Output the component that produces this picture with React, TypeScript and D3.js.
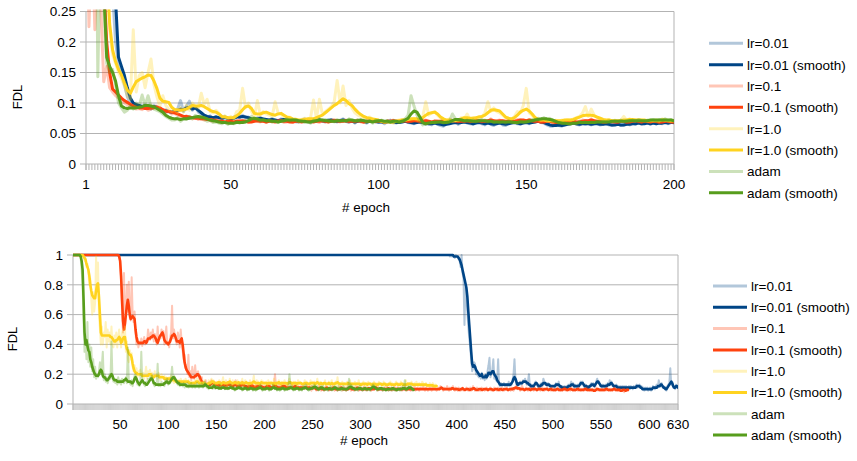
import React from 'react';
import * as d3 from 'd3';

// run-length literal decoder: "v" or "vxN" (value repeated N times)
const parse = (s: string, unit: number): number[] =>
  s.trim().split(/\s+/).flatMap((t) => {
    const [v, n] = t.split('x');
    return new Array(n ? parseInt(n, 10) : 1).fill(parseFloat(v) / unit);
  });

const SERIES_NAMES = ['lr=0.01', 'lr=0.1', 'lr=1.0', 'adam'];
const COLORS = ['#004586', '#ff420e', '#ffd320', '#579d1c'];

const TOP_Y_TICKS = [0, 0.05, 0.1, 0.15, 0.2, 0.25];
const TOP_Y_LABELS = ['0', '0.05', '0.1', '0.15', '0.2', '0.25'];
const TOP_X_TICKS = [1, 50, 100, 150, 200];
const BOT_Y_TICKS = [0, 0.2, 0.4, 0.6, 0.8, 1];
const BOT_Y_LABELS = ['0', '0.2', '0.4', '0.6', '0.8', '1'];
const BOT_X_TICKS = [50, 100, 150, 200, 250, 300, 350, 400, 450, 500, 550, 600, 630];

// ---------- TOP chart (values in thousandths), epochs 1..200 ----------
const TOP_LR001_RAW = `
999 950 900 800 700 600 500 400 330 280
200 165 150 130 110 100 96 98 94 95
97 92 90 96 92 88 86 89 85 84
88 90 104 86 95 103 88 94 85 82
78 77 79 74 78 75 73 78 74 72
77 79 76 80 76 77 72 71 76 76
73 72 71 75 70 70 74 73 70 71
73 69 69 72 74 70 68 71 72 73
70 69 73 72 70 69 72 74 70 68
71 67 71 72 69 67 71 73 69 68
70 66 70 72 68 67 69 70 71 68
67 66 69 70 67 65 66 64 68 65
63 62 66 67 68 70 65 69 70 67
66 65 68 70 66 64 68 65 63 67
68 64 63 67 68 70 66 65 68 70
66 69 71 72 68 67 64 62 62 64
63 62 65 66 67 68 65 64 67 65
67 64 66 67 64 65 67 64 63 65
66 63 64 66 64 67 65 69 65 67
68 65 68 66 68 66 70 66 69 67`;
const TOP_LR001_SMOOTH = `
900 850 800 700 620 550 480 420 370 320
270 175 160 145 125 108 100 97 96 94
95 93 92 94 93 90 88 87 86 85
86 88 90 89 92 93 90 92 88 84
80 78 77 76 77 76 75 76 75 74
75 77 77 78 77 76 74 73 74 75
74 73 72 73 72 71 72 73 72 71
72 71 70 71 72 71 70 70 71 72
71 70 71 72 71 70 71 72 71 70
70 69 70 71 70 69 70 71 70 69
69 68 69 70 69 68 68 69 70 69
68 67 68 69 68 67 66 66 67 66
65 64 65 66 67 68 67 68 69 68
67 66 67 68 67 66 67 66 65 66
67 66 65 66 67 68 67 66 67 68
67 68 69 70 69 68 66 64 63 63
64 63 64 65 66 67 66 65 66 66
66 65 66 66 65 65 66 65 64 64
65 64 64 65 65 66 66 67 66 66
67 66 67 66 67 67 68 67 68 68`;
const TOP_LR01_RAW = `
500 225 380 220 330 260 135 160 125 118
112 108 104 100 97 95 92 90 91 89
93 88 90 94 95 91 88 84 87 82
83 80 78 76 79 75 74 77 73 74
72 74 71 70 73 69 71 68 70 72
68 71 72 69 70 68 70 72 70 69
71 68 71 69 70 72 71 68 69 70
68 71 69 70 72 70 69 71 70 68
72 69 70 71 73 70 69 71 72 69
71 69 72 69 68 71 70 72 69 71
70 68 71 69 72 70 69 71 72 69
71 72 70 69 71 72 69 68 71 70
69 72 70 71 72 70 69 71 70 72
69 71 72 70 69 72 70 74 70 71
72 70 69 71 72 69 73 72 71 70
73 70 69 71 68 70 71 69 67 68
69 67 70 68 71 69 68 70 72 71
70 74 70 69 71 68 70 71 68 70
68 71 70 68 70 71 72 69 70 71
69 70 71 69 68 70 71 69 70 68`;
const TOP_LR01_SMOOTH = `
800 700 600 520 450 380 300 200 150 123
118 113 108 104 101 98 95 93 92 92
91 91 92 92 93 92 89 87 86 85
84 82 80 78 78 77 76 75 75 74
74 73 73 72 71 70 70 69 70 70
69 70 70 71 70 69 69 70 71 70
70 69 70 70 69 70 71 70 70 69
69 70 70 69 70 71 70 69 70 70
71 70 69 70 71 71 70 70 71 70
70 70 71 70 69 70 70 71 70 70
70 69 70 70 71 70 70 70 71 70
70 71 71 70 70 71 70 69 70 70
70 71 70 70 71 71 70 70 70 71
70 70 71 71 70 70 71 72 71 70
71 71 70 70 71 70 71 72 72 71
72 71 70 70 69 69 70 70 69 68
68 68 69 69 70 70 69 69 70 71
71 72 71 70 70 69 69 70 70 69
69 70 70 69 69 70 71 70 69 70
70 69 70 70 69 69 70 70 69 69`;
const TOP_LR1_RAW = `
999 900 800 700 600 500 400 300 220 180
165 150 140 128 112 106 220 118 145 150
125 150 172 130 110 95 112 96 90 86
88 84 92 85 96 88 100 94 92 116
98 106 86 84 88 83 76 79 74 78
74 86 88 124 92 100 86 78 104 80
86 82 80 78 102 84 81 78 74 77
72 74 70 73 75 73 76 105 74 106
82 86 90 94 102 137 100 128 96 104
92 84 80 78 76 75 77 73 72 71
70 68 70 69 67 71 72 73 71 74
73 75 72 71 78 102 80 84 86 80
75 73 71 74 70 72 71 76 74 82
72 76 74 78 77 84 102 86 92 86
84 80 76 74 73 78 86 84 96 124
84 80 72 74 71 73 70 72 70 72
70 72 71 73 72 74 76 78 83 94
78 90 80 76 73 72 71 73 70 72
70 72 78 71 74 72 71 73 72 71
70 72 71 73 70 74 71 72 70 72`;
const TOP_LR1_SMOOTH = `
900 800 700 600 500 420 380 330 230 187
168 155 146 133 121 116 126 135 138 141
143 146 145 136 124 108 103 102 101 93
89 89 88 89 90 93 96 95 95 96
94 91 88 86 85 82 78 77 76 76
76 79 83 89 94 95 91 83 82 82
84 85 83 81 80 82 83 80 77 76
74 73 72 72 73 74 74 74 76 78
80 84 88 92 96 99 103 107 104 99
96 90 85 81 78 76 75 74 73 72
70 69 69 69 69 70 71 72 72 73
74 74 74 73 76 80 83 84 85 82
77 74 72 72 71 71 72 74 76 76
75 75 76 77 78 80 84 88 89 88
87 82 77 75 74 76 80 85 88 90
87 82 76 73 72 72 71 71 71 71
71 71 72 72 72 73 75 77 79 80
80 80 79 77 75 73 72 72 71 71
71 71 72 72 73 73 72 72 72 72
71 71 71 71 71 72 72 71 71 71`;
const TOP_ADAM_RAW = `
999 900 800 700 143 400 260 165 150 155
130 100 92 85 88 96 90 100 95 113
96 112 94 90 88 86 82 78 75 72
72 76 70 74 73 78 74 80 77 75
73 70 72 68 69 67 66 69 65 68
66 70 67 69 71 73 78 74 72 70
73 70 72 69 71 68 71 72 74 70
73 71 69 71 68 70 67 72 70 74
71 73 69 71 69 73 70 72 70 74
71 69 73 70 72 68 71 67 72 70
72 69 71 68 71 69 68 71 74 80
112 95 80 70 64 66 69 67 70 68
70 67 69 70 82 74 71 73 70 72
70 72 69 71 73 70 69 71 68 70
68 70 67 71 68 69 67 71 68 70
71 73 72 75 73 76 72 75 70 69
67 68 66 67 65 68 66 70 67 69
67 69 68 70 68 70 69 71 69 71
70 72 69 71 70 72 70 73 71 70
72 71 73 70 73 71 74 71 73 70`;
const TOP_ADAM_SMOOTH = `
800 700 600 500 420 350 290 175 160 150
136 112 95 92 91 92 92 92 93 94
96 96 95 94 91 88 85 80 77 75
74 74 73 74 74 75 76 77 78 77
76 74 72 71 70 69 68 68 67 67
67 68 68 68 69 71 74 75 74 72
72 71 71 70 70 69 70 71 72 72
72 72 71 70 70 69 69 70 71 72
72 71 71 70 70 71 71 71 71 72
72 71 71 72 71 70 70 69 70 71
71 70 70 69 70 70 69 70 72 75
82 87 85 77 68 66 67 68 68 69
69 68 68 69 71 73 73 72 71 71
71 70 70 71 71 71 70 70 69 69
69 69 69 69 69 68 68 69 69 69
70 71 72 73 74 74 74 73 72 70
68 67 67 66 66 67 67 68 68 68
68 68 68 69 69 69 69 69 70 70
70 70 70 70 71 71 71 71 71 71
71 72 72 72 72 72 72 72 72 71`;

// ---------- BOTTOM chart (values in hundredths), epochs 1..630 ----------
const BOT_LR001_RAW = `
100x385
100 100 100 100 100 100 100 99 100 99 100 99 98 100 99
99 97 96 92 100 88 84 53 78 72
62 52 44 38 30 22 24 28 27 20
20 19 18 20 17 21 17 19 16 20
17 22 26 31 18 20 23 30 17 18
16 15 30 13 12 14 12 13 14 12
12 13 12 15 12 14 13 16 20 30
16 13 12 14 13 15 13 14 16 15
17 14 13 15 20 12 11 13 12 11
14 15 13 12 11 13 12 14 12 17
15 13 14 12 14 12 13 11 12 12
12 11 14 12 13 15 11 12 10 12
10 12 11 12 10 13 12 13 15 12
14 11 13 12 11 13 12 14 15 13
15 12 11 13 12 10 12 11 13 14
12 14 13 12 15 17 14 15 12 13
11 13 12 11 13 12 14 12 16 13
15 12 13 11 12 13 11 12 10 12
11 12 10 12 11 12 10 11 12 10
12 11 10 12 11 12 13 11 12 13
11 12 10 11 9 11 10 11 9 10
11 9 10 12 11 10 12 13 11 16
13 12 14 11 12 10 11 9 12 13
14 24 13 15 11 12 10 13 11 12`;
const BOT_LR001_SMOOTH = `
100x385
100 100 100 100 100 100 100 100 100 100 100 99 99 99 99
99 98 97 95 93 90 87 84 81 78
72 62 53 44 35 27 25 26 25 23
22 21 20 19 19 20 18 18 18 19
18 19 21 21 20 21 22 22 20 19
18 16 15 14 13 13 13 13 13 13
13 13 13 13 13 13 14 15 17 18
17 15 13 13 14 14 14 14 15 15
15 15 14 14 13 13 12 12 12 12
13 14 14 13 12 12 12 13 13 14
14 14 13 13 13 13 12 12 12 12
12 12 13 13 13 13 12 12 11 11
11 11 11 11 11 12 12 12 13 13
13 12 12 12 12 12 12 13 14 14
14 13 12 12 12 11 11 12 12 13
13 13 12 13 14 15 15 14 13 12
12 12 12 12 12 12 13 13 13 14
14 13 12 12 12 12 11 11 11 11
11 11 11 11 11 11 11 11 11 11
11 11 11 11 11 11 12 12 12 12
11 11 10 10 10 10 10 10 10 10
10 10 10 11 11 11 11 11 12 12
12 13 13 12 11 11 10 10 11 12
13 14 15 14 12 11 11 12 12 11`;
const BOT_LR01_RAW = `
100x47
100 100 96 82 62 48 88 50 64 80 62 82 58
56 85 60 55 62 48 40 44 38 42
40 44 39 42 45 40 43 41 50 46
43 48 44 50 42 47 44 40 52 42
46 44 50 46 49 40 44 52 40 42
38 44 48 66 44 50 45 42 40 48
45 38 50 42 36 30 33 24 26 20
33 18 22 16 25 20 17 26 18 21
22 17 19 14 18 12 15 13 16 12
14 12 15 13 16 14 12 15 13 12
14 12 11 15 12 13 14 11 12 13
11 14 13 15 12 11 14 12 13 16
12 11 13 12 14 11 15 13 12 11
12 10 13 11 14 12 11 13 10 12
11 13 12 14 11 13 10 12 11 12
10 12 13 11 14 12 10 11 12 13
20 12 10 11 13 10 12 11 14 12
11 13 10 12 11 10 12 11 13 10
12 13 10 11 12 10 11 12 10 11
12 10 11 13 10 11 12 10 9 12
10 12 11 9 10 11 12 10 9 11
10 9 11 12 10 11 9 10 11 10
12 10 9 11 10 9 11 10 12 11
9 10 11 10 9 10 12 11 10 9
10 11 9 10 12 11 10 9 11 10
11 9 10 12 10 11 9 10 11 10
9 10 12 10 11 13 10 9 11 10
10 11 9 10 11 10 12 10 9 11
10 9 11 10 12 10 9 11 10 10
11 10 9 11 10 12 10 9 10 11
10 9 11 10 10 12 9 10 11 10
9 11 10 10 12 10 9 11 10 9
10 11 10 9 12 10 11 10 9 10
11 10 12 11 10 9 11 10 10 12
10 9 11 10 11 12 10 9 11 10
9 11 10 9 10 11 9 10 10 11
10 9 10 11 9 10 12 10 9 10
11 10 9 10 9 11 10 10 9 10
11 9 10 10 11 9 10 9 11 10
10 9 11 10 9 10 11 10 9 10
10 11 9 10 10 9 11 10 9 10
11 12 10 11 10 9 11 12 10 9
10 11 10 9 10 11 9 10 10 9
11 10 9 10 11 10 9 10 11 10
9 10 10 11 9 10 10 9 11 10
9 10 9 10 11 9 10 9 10 9
10 11 9 10 9 10 10 9 11 10
9 10 9 10 10 9 11 10 9 10
10 9 9 10 11 9 10 9 10 9
10 9 10 9 11 10 9 10 9 10
9 10 9 10 9 11 10 9 10 9
10 9 10 11 9 10 9 10 9 10
9 10 9 8 10 9 10 9`;
const BOT_LR01_SMOOTH = `
100x47
100 99 96 86 70 56 50 54 60 66 70 66 60
57 58 59 58 57 50 45 42 41 41
41 41 41 41 42 42 41 42 44 44
44 45 45 46 46 45 44 42 41 43
45 46 47 48 46 43 42 41 41 40
41 42 44 46 46 47 46 44 42 42
42 41 43 44 40 34 28 25 23 22
21 20 19 18 18 18 18 19 19 20
20 19 18 16 15 14 14 13 13 13
13 13 13 13 14 14 14 13 13 13
13 13 12.5 12.5 12.5 13 13 12.5 12.5 12.5
12.5 13 13 13 12.5 12 12 12.5 13 13
12.5 12 12 12 12.5 12.5 13 13 12.5 12
12 11.5 11.5 12 12 12 12.5 12 11.5 11.5
11.5 11.5 12 12 12 12 11.5 11.5 11 11
11 11.5 12 12 12 11.5 11 11 11.5 12
12.5 12 11.5 11 11 11 11 11.5 12 12
12 11.5 11 11 11 11 11 11 11 11
11.5 12 11.5 11 11 11 11 11 11 11
11 11 11 11 11 11 11 10.5 10.5 11
11 11 10.5 10 10 10 10.5 11 10.5 10
10 10 10 10.5 11 10.5 10 10 10 10
10.5 11 10.5 10 10 10 10 10 10.5 11
10.5 10 10 10 10 10 10 10.5 11 10.5
10 10 10 10 10 10.5 11 10.5 10 10
10 10 10 10 10 10 10 10.5 10.5 10
10 10 10 10 10.5 11 10.5 10 10 10
10 10 10 10 10 10 10 10 10.5 10
10 10 10 10 10 10 10 10 10 10
10 10 10 10.5 10 10 10 10 10 10
10 10 10 10 10 10 10 10 10 10
10 10 10 10 10 10 10 10 10 10
10 10 10 10 10 10 10 10 10 10
10 10 10.5 11 10.5 10 10 10 10 10
10 10 10 10 10.5 10.5 10 10 10 10
10 9.5 9.5 10 10 10.5 10 9.5 9.5 10
10 10 9.5 9.5 10 10 10.5 10.5 10 9.5
9.5 9.5 10 10 10 9.5 9.5 10 10 10
10 9.5 9.5 10 10 10 9.5 9.5 9.5 10
10 10 9.5 9.5 10 10 9.5 9.5 10 10
10 10 9.5 9.5 10 10 10 10 10.5 10.5
11 11 10.5 10.5 10.5 10 10 10 10 9.5
9.5 10 10 10 10 9.5 9.5 10 10 10
10 10 9.5 9.5 10 10 10 10 9.5 9.5
10 10 10 10 9.5 9.5 10 10 9.5 9.5
9.5 9.5 9.5 10 10 9.5 9.5 9.5 9.5 9.5
10 10 10 9.5 9.5 9.5 10 10 10 9.5
9.5 9.5 9.5 9.5 10 10 9.5 9.5 9.5 9.5
9.5 9.5 10 10 9.5 9.5 9.5 9.5 9.5 9.5
9.5 9 9 9 9.5 10 10 9.5 9.5 9.5
9.5 9.5 9.5 9.5 10 10 9.5 9.5 9.5 9.5
9.5 9.5 10 10 9.5 9.5 9.5 9.5 9.5 9
9 9 9.5 9.5 9 9 9.5 9.5`;
const BOT_LR1_RAW = `
100x10
100 99 96 98 92 94 88 80 84 70
60 75 62 68 99 78 95 60 50 40
52 40 48 45 55 38 50 42 48 40
52 40 38 46 40 48 38 45 50 42
38 48 50 40 52 35 42 30 28 36
30 34 25 22 26 20 24 18 22 19
23 20 18 21 17 20 25 17 22 19
23 18 21 17 19 22 18 20 17 21
19 16 20 18 17 19 15 18 17 16
18 16 19 15 17 14 18 15 16 14
16 14 17 15 13 16 14 17 15 14
16 13 15 14 12 15 14 16 13 17
15 13 16 14 12 15 13 16 12 14
13 16 14 15 17 13 16 14 12 15
15 13 16 14 12 15 18 13 14 16
12 15 13 17 14 12 16 13 15 14
13 16 12 14 15 13 17 12 14 16
15 13 14 12 16 14 13 15 19 12
14 16 13 15 12 14 16 13 15 14
13 15 12 16 14 13 15 14 12 17
14 12 15 13 16 14 12 15 13 14
16 13 14 12 15 17 13 14 12 15
13 15 14 12 16 13 15 14 13 12
14 16 13 15 12 14 13 16 12 15
13 15 12 14 17 13 12 15 14 12
14 13 16 12 14 13 15 12 14 16
12 14 13 15 12 18 13 12 14 13
15 12 14 13 12 15 14 13 16 12
14 13 12 15 13 14 12 16 13 12
14 13 15 12 14 13 12 15 13 14
12 14 13 15 12 13 14 12 15 13
14 12 13 15 12 14 13 12 14 13
15 12 14 13 12 14 15 13 12 14
13 15 12 14 13 12 16 13 14 12
14 13 15 12 13 14 12 15 13 12
14 13 12 15 14 12 13 14 12 13
12 14 13 12 14 13 12 13 12`;
const BOT_LR1_SMOOTH = `
100x10
100 99 98 97 94 92 90 86 80 76
73 72 71 71 76 80 81 72 60 48
46 46 46 46 46 46 46 46 46 45
45 44 43 42 42 43 43 44 45 44
41 42 44 45 45 40 37 36 34 33
33 31 27 24 22 21 21 20 20 20
20 20 19 19 19 19 19 19 19 20
20 20 19 18 18 19 19 19 19 19
18 18 18 18 18 17 17 17 17 17
17 17 17 17 16 16 16 15 15 15
15 15 15 15 15 15 15 15 15 15
15 14 14 14 14 14 14 14 15 15
15 14 14 14 14 14 14 14 13 13
13 14 14 14 15 15 15 14 14 14
14 14.5 14.5 14 13.5 14 14.5 14.5 14 14
14 14.5 14.5 15 14.5 14 14 14 14.5 14.5
14 14 14.5 14 14 14 14.5 14 14 14
14.5 14 14 13.5 14 14 14 14.5 15 14.5
14 14 14 14 13.5 14 14.5 14 14 14
14 14 13.5 14 14 14 14 14 13.5 14
14 13.5 14 14 14.5 14 13.5 14 14 14
14 14 14 13.5 14 14.5 14.5 14 13.5 14
14 14 14 13.5 14 14 14 14 13.5 13.5
13.5 14 14 14 13.5 13.5 13.5 14 14 14
14 14 13.5 14 14.5 14 13.5 13.5 14 13.5
13.5 14 14 13.5 13.5 13.5 14 13.5 13.5 14
13.5 13.5 13.5 14 14 14.5 14 13.5 13.5 13.5
13.5 13.5 13.5 13.5 13.5 13.5 14 13.5 13.5 13.5
13.5 13.5 13.5 13.5 13.5 13.5 13.5 13.5 13.5 13
13 13.5 13.5 13.5 13.5 13.5 13 13.5 13.5 13.5
13 13 13.5 13.5 13.5 13 13 13 13.5 13.5
13.5 13 13 13.5 13.5 13 13 13 13 13.5
13.5 13 13 13 13 13 13.5 13.5 13 13
13 13.5 13.5 13 13 13 13 13 13.5 13.5
13.5 13.5 13.5 13 13 13 13 13 13 13
13 13 13 13 13 13 13 13 12.5 12.5
12.5 12.5 12.5 12.5 12.5 12 12 12 12`;
const BOT_ADAM_RAW = `
100 100 100 100 100 100 100 100 98 90
80 55 35 45 30 55 28 40 25 38
22 30 18 25 17 20 18 22 28 20
26 35 16 20 15 18 14 16 20 17
42 18 15 17 14 16 13 18 14 16
13 17 15 14 16 18 14 38 16 14
13 16 12 15 19 20 16 13 15 12
14 35 16 14 13 12 15 13 17 15
18 16 19 15 13 12 14 13 27 12
13 12 15 13 14 12 16 14 17 13
15 14 18 25 17 19 16 15 14 13
15 12 14 13 12 14 11 13 12 14
11 13 12 14 11 12 13 11 12 14
12 11 13 12 14 11 12 15 13 11
12 10 12 11 13 10 12 13 10 12
12 10 11 13 10 11 12 11 10 12
11 10 12 11 13 10 11 12 9 11
10 12 11 13 10 11 9 12 10 11
12 9 11 10 12 10 11 9 11 10
9 11 10 12 11 13 10 9 11 10
10 12 11 10 9 11 10 12 13 11
10 12 9 11 10 9 11 10 12 10
9 11 10 10 12 20 13 10 12 9
11 10 12 10 11 9 10 11 9 12
11 12 13 11 10 9 11 10 12 11
12 13 11 10 12 9 10 11 12 10
12 9 10 11 10 9 11 10 12 9
11 10 12 11 10 9 12 10 11 9
10 12 11 10 9 11 10 17 11 13
12 10 11 9 10 11 9 10 12 11
10 9 11 10 11 9 10 11 10 9
11 12 13 12 10 11 9 10 11 10
11 10 9 11 10 9 10 11 9 10
10 11 9 11 10 9 10 9 11 10
9 11 10 12 11 16 9 11 10 12
11 12 10 9 10`;
const BOT_ADAM_SMOOTH = `
100 100 100 100 100 100 100 100 99 96
90 70 48 40 43 39 36 35 30 28
25 23 21 20 19 19 19 20 22 23
22 19 18 18 17 16 16 17 18 19
20 19 17 16 16 16 15 15 15 15
15 15 15 16 16 17 16 15 15 15
15 14 14 15 17 18 17 15 14 13
14 15 16 15 14 14 13 13 14 15
16 17 17 16 14 14 13 13 13 13
13 13 13 13 13 14 14 15 15 14
14 15 16 17 18 18 17 16 15 14
14 13 13 13 13 13 13 13 12 12
12 12 12 12 12 12 12 12 12 12
12 12 12 12 12 12 12 13 13 12
12 11 11 11 11 11 12 12 11 11
11 11 10.5 10.5 10.5 11 11 11 10.5 10.5
10.5 10.5 10.5 11 11 11 10.5 10.5 10 10
10.5 10.5 11 11 10.5 10.5 10 10 10.5 10.5
10.5 10 10 10 10.5 10.5 10.5 10 10 10
10 10 10.5 10.5 11 11 10.5 10 10 10
10 10.5 10.5 10.5 10 10 10 10.5 11 11
10.5 10.5 10 10 10 10 10 10.5 10.5 10.5
10 10 10 10 10.5 10.5 11 11 10.5 10
10 10 10.5 10.5 10.5 10 10 10 10 10.5
10.5 11 11 10.5 10 10 10 10.5 10.5 10.5
11 11.5 11.5 11 10.5 10 10 10.5 11 11
10.5 10 10 10 10 10 10.5 10.5 10 10
10 10.5 11 11 10.5 10 10 10 10 10.5
10.5 10 10 10 10 10 10.5 11 11.5 11.5
11 10.5 10.5 10 10 10 10 10.5 10.5 10.5
10 10 10 10.5 10.5 10 10 10 10 10
10.5 11 11.5 11.5 11 10.5 10 10 10 10.5
10.5 10.5 10 10 10 9.5 9.5 10 10 10
10 10 10.5 10.5 10 10 9.5 9.5 10 10
10 10 10 10.5 10.5 10.5 10 10 10.5 11
11 11 10.5 10 9.5`;

const TOP_RAW = [TOP_LR001_RAW, TOP_LR01_RAW, TOP_LR1_RAW, TOP_ADAM_RAW].map((s) => parse(s, 1000));
const TOP_SMOOTH = [TOP_LR001_SMOOTH, TOP_LR01_SMOOTH, TOP_LR1_SMOOTH, TOP_ADAM_SMOOTH].map((s) => parse(s, 1000));
const BOT_RAW = [BOT_LR001_RAW, BOT_LR01_RAW, BOT_LR1_RAW, BOT_ADAM_RAW].map((s) => parse(s, 100));
const BOT_SMOOTH = [BOT_LR001_SMOOTH, BOT_LR01_SMOOTH, BOT_LR1_SMOOTH, BOT_ADAM_SMOOTH].map((s) => parse(s, 100));

const FONT = "'Liberation Sans', Arial, sans-serif";
const GRID = '#b3b3b3';

type ChartProps = {
  id: string;
  left: number; right: number; top: number; bottom: number;
  nEpochs: number; yMax: number;
  yTicks: number[]; yLabels: string[]; xTicks: number[];
  raw: number[][]; smooth: number[][];
  rawW: number; smoothW: number; minorW: number;
  titleX: number; titleY: number; fdlX: number; fdlY: number;
  legLineX: number; legTextX: number; legY: number; legStep: number;
};

function Chart(p: ChartProps) {
  const x = d3.scaleLinear().domain([1, p.nEpochs]).range([p.left, p.right]);
  const y = d3.scaleLinear().domain([0, p.yMax]).range([p.bottom, p.top]);
  const line = d3.line<number>().x((_, i) => x(i + 1)).y((d) => y(d));
  const minor = d3.range(1, p.nEpochs + 1);
  const legend = SERIES_NAMES.flatMap((n, i) => [
    { label: n, color: COLORS[i], raw: true },
    { label: n + ' (smooth)', color: COLORS[i], raw: false },
  ]);
  return (
    <g fontFamily={FONT} fontSize={13.5} fill="#000">
      <defs>
        <clipPath id={p.id}>
          <rect x={p.left} y={p.top - 2} width={p.right - p.left} height={p.bottom - p.top + 2} />
        </clipPath>
      </defs>
      {p.yTicks.map((t, i) => (
        <g key={'y' + i}>
          <line x1={p.left - 6} x2={p.right} y1={y(t)} y2={y(t)} stroke={GRID} strokeWidth={1} />
          <text x={p.left - 10} y={y(t)} dy="0.36em" textAnchor="end">{p.yLabels[i]}</text>
        </g>
      ))}
      <line x1={p.left} x2={p.left} y1={p.top} y2={p.bottom + 6} stroke={GRID} />
      <line x1={p.right} x2={p.right} y1={p.top} y2={p.bottom + 6} stroke={GRID} />
      {minor.map((e) => (
        <line key={'m' + e} x1={x(e)} x2={x(e)} y1={p.bottom} y2={p.bottom + 6} stroke={GRID} strokeWidth={p.minorW} />
      ))}
      {p.xTicks.map((t) => (
        <text key={'x' + t} x={x(t)} y={p.bottom + 24.5} textAnchor="middle">{t}</text>
      ))}
      <text x={p.titleX} y={p.titleY} textAnchor="middle">{'# epoch'}</text>
      <text transform={`translate(${p.fdlX},${p.fdlY}) rotate(-90)`} textAnchor="middle" fontSize={13}>FDL</text>
      <g clipPath={`url(#${p.id})`} fill="none" strokeLinejoin="round" strokeLinecap="round">
        {p.raw.map((r, i) => (
          <g key={'s' + i}>
            <path d={line(r) || ''} stroke={COLORS[i]} strokeOpacity={0.3} strokeWidth={p.rawW} />
            <path d={line(p.smooth[i]) || ''} stroke={COLORS[i]} strokeWidth={p.smoothW} />
          </g>
        ))}
      </g>
      {legend.map((l, i) => (
        <g key={'l' + i}>
          <line
            x1={p.legLineX}
            x2={p.legLineX + 34}
            y1={p.legY + i * p.legStep}
            y2={p.legY + i * p.legStep}
            stroke={l.color}
            strokeOpacity={l.raw ? 0.3 : 1}
            strokeWidth={3}
          />
          <text x={p.legTextX} y={p.legY + i * p.legStep} dy="0.36em">{l.label}</text>
        </g>
      ))}
    </g>
  );
}

export default function App() {
  return (
    <svg
      width={857}
      height={461}
      style={{ position: 'absolute', left: 0, top: 0, background: '#fff' }}
    >
      <rect width={857} height={461} fill="#fff" />
      <Chart
        id="clipTop"
        left={86} right={674} top={11.5} bottom={164}
        nEpochs={200} yMax={0.25}
        yTicks={TOP_Y_TICKS} yLabels={TOP_Y_LABELS} xTicks={TOP_X_TICKS}
        raw={TOP_RAW} smooth={TOP_SMOOTH}
        rawW={3} smoothW={3} minorW={1}
        titleX={366} titleY={211.5} fdlX={22} fdlY={97}
        legLineX={709} legTextX={747} legY={43.3} legStep={21.35}
      />
      <Chart
        id="clipBot"
        left={73} right={678} top={255} bottom={404}
        nEpochs={630} yMax={1}
        yTicks={BOT_Y_TICKS} yLabels={BOT_Y_LABELS} xTicks={BOT_X_TICKS}
        raw={BOT_RAW} smooth={BOT_SMOOTH}
        rawW={2} smoothW={2.6} minorW={0.6}
        titleX={364} titleY={445} fdlX={17} fdlY={339}
        legLineX={713} legTextX={751} legY={286} legStep={21.3}
      />
    </svg>
  );
}
